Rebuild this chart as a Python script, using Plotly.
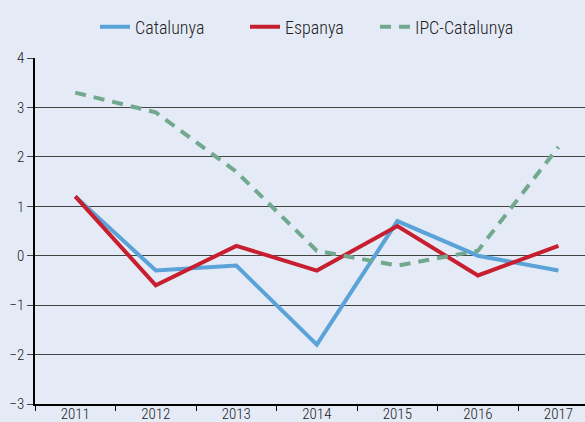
import plotly.graph_objects as go

years = ["2011", "2012", "2013", "2014", "2015", "2016", "2017"]
catalunya = [1.2, -0.3, -0.2, -1.8, 0.7, 0.0, -0.3]
espanya = [1.2, -0.6, 0.2, -0.3, 0.6, -0.4, 0.2]
ipc_catalunya = [3.3, 2.9, 1.7, 0.1, -0.2, 0.1, 2.2]
y_ticks = [-3, -2, -1, 0, 1, 2, 3, 4]

FONT = "Roboto Condensed, Liberation Sans Narrow, sans-serif"
BG = "#e4ebf6"

fig = go.Figure()
fig.add_trace(go.Scatter(x=years, y=catalunya, name="Catalunya", mode="lines",
                         line=dict(color="#5aa2d8", width=4), legend="legend"))
fig.add_trace(go.Scatter(x=years, y=espanya, name="Espanya", mode="lines",
                         line=dict(color="#c71f30", width=4), legend="legend2"))
fig.add_trace(go.Scatter(x=years, y=ipc_catalunya, name="IPC-Catalunya", mode="lines",
                         line=dict(color="#72a88e", width=4, dash="11px,8px"),
                         legend="legend3"))

def leg(xpx):
    return dict(orientation="h", x=xpx / 585, xanchor="left", xref="container",
                y=1 - 27 / 422, yanchor="middle", yref="container",
                font=dict(size=18, color="#222", weight=300), bgcolor="rgba(0,0,0,0)")

fig.update_layout(
    width=585, height=422,
    paper_bgcolor=BG, plot_bgcolor=BG,
    margin=dict(l=35, r=0, t=58, b=18, autoexpand=False),
    font=dict(family=FONT, size=15, color="#222", weight=300),
    legend=leg(95), legend2=leg(245), legend3=leg(375),
    showlegend=True,
)
fig.update_xaxes(type="category", range=[-0.5, 6.33], showgrid=False, automargin=False,
                 showline=True, linecolor="#000", linewidth=1.5,
                 ticks="outside", tickson="boundaries", ticklen=5, tickcolor="#000",
                 tickfont=dict(size=15), ticklabelstandoff=-5, fixedrange=True)
fig.update_yaxes(range=[-3, 4], tickvals=y_ticks, showgrid=True, gridcolor="#444",
                 gridwidth=1, zeroline=False, showline=True, linecolor="#000",
                 linewidth=1.5, ticks="outside", ticklen=6, tickcolor="#444",
                 automargin=False, tickfont=dict(size=15), ticklabelstandoff=0)

fig.write_html("out.html", config={"displayModeBar": False},
               post_script="document.body.style.margin='0';"
                           "document.body.style.background='" + BG + "';")
